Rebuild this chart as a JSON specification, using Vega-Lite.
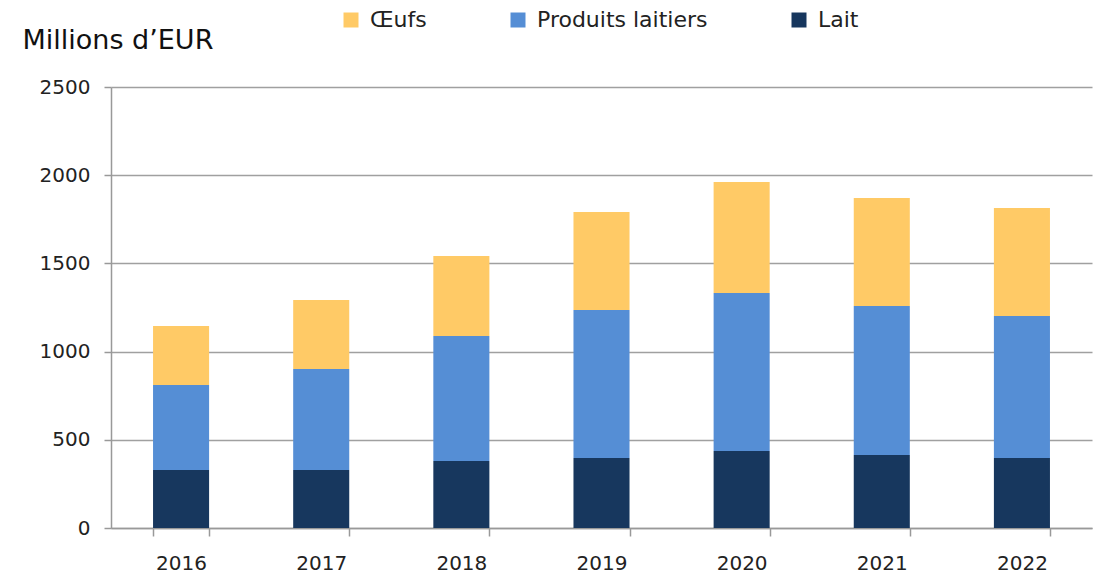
{
  "$schema": "https://vega.github.io/schema/vega-lite/v6.json",
  "width": 981,
  "height": 441,
  "autosize": {"type": "none"},
  "padding": {"left": 111, "top": 87, "right": 10, "bottom": 46},
  "background": "white",
  "config": {
    "font": "DejaVu Sans",
    "view": {"stroke": null}
  },
  "data": {
    "values": [
      {"annee": "2016", "categorie": "Lait", "ordre": 1, "valeur": 329},
      {"annee": "2016", "categorie": "Produits laitiers", "ordre": 2, "valeur": 482},
      {"annee": "2016", "categorie": "Œufs", "ordre": 3, "valeur": 334},
      {"annee": "2017", "categorie": "Lait", "ordre": 1, "valeur": 329},
      {"annee": "2017", "categorie": "Produits laitiers", "ordre": 2, "valeur": 572},
      {"annee": "2017", "categorie": "Œufs", "ordre": 3, "valeur": 392},
      {"annee": "2018", "categorie": "Lait", "ordre": 1, "valeur": 380},
      {"annee": "2018", "categorie": "Produits laitiers", "ordre": 2, "valeur": 708},
      {"annee": "2018", "categorie": "Œufs", "ordre": 3, "valeur": 454},
      {"annee": "2019", "categorie": "Lait", "ordre": 1, "valeur": 397},
      {"annee": "2019", "categorie": "Produits laitiers", "ordre": 2, "valeur": 839},
      {"annee": "2019", "categorie": "Œufs", "ordre": 3, "valeur": 555},
      {"annee": "2020", "categorie": "Lait", "ordre": 1, "valeur": 437},
      {"annee": "2020", "categorie": "Produits laitiers", "ordre": 2, "valeur": 895},
      {"annee": "2020", "categorie": "Œufs", "ordre": 3, "valeur": 630},
      {"annee": "2021", "categorie": "Lait", "ordre": 1, "valeur": 414},
      {"annee": "2021", "categorie": "Produits laitiers", "ordre": 2, "valeur": 845},
      {"annee": "2021", "categorie": "Œufs", "ordre": 3, "valeur": 612},
      {"annee": "2022", "categorie": "Lait", "ordre": 1, "valeur": 397},
      {"annee": "2022", "categorie": "Produits laitiers", "ordre": 2, "valeur": 805},
      {"annee": "2022", "categorie": "Œufs", "ordre": 3, "valeur": 612}
    ]
  },
  "mark": {"type": "bar"},
  "encoding": {
    "x": {
      "field": "annee",
      "type": "nominal",
      "scale": {"paddingInner": 0.6, "paddingOuter": 0.3},
      "axis": {
        "title": null,
        "labelAngle": 0,
        "labelFontSize": 20,
        "labelColor": "#222222",
        "labelPadding": 17,
        "tickBand": "extent",
        "tickSize": 8,
        "tickColor": "#999999",
        "tickWidth": 1.5,
        "domainColor": "#999999",
        "domainWidth": 1.5,
        "grid": false
      }
    },
    "y": {
      "field": "valeur",
      "type": "quantitative",
      "stack": "zero",
      "scale": {"domain": [0, 2500]},
      "axis": {
        "values": [0, 500, 1000, 1500, 2000, 2500],
        "format": "d",
        "title": "Millions d’EUR",
        "titleAngle": 0,
        "titleX": -89,
        "titleY": -39,
        "titleAlign": "left",
        "titleBaseline": "alphabetic",
        "titleFontSize": 27,
        "titleFontWeight": "normal",
        "titleColor": "#111111",
        "labelFontSize": 20,
        "labelColor": "#222222",
        "labelPadding": 14,
        "tickSize": 7,
        "tickColor": "#999999",
        "tickWidth": 1.5,
        "domainColor": "#999999",
        "domainWidth": 1.5,
        "gridColor": "#a0a0a0",
        "gridWidth": 1.5
      }
    },
    "color": {
      "field": "categorie",
      "type": "nominal",
      "scale": {
        "domain": ["Œufs", "Produits laitiers", "Lait"],
        "range": ["#FFCA66", "#558ED5", "#17375E"]
      },
      "legend": {
        "title": null,
        "orient": "none",
        "legendX": 229,
        "legendY": -78,
        "direction": "horizontal",
        "symbolType": "square",
        "symbolSize": 225,
        "symbolStrokeWidth": 0,
        "labelFontSize": 22,
        "labelLimit": 400,
        "labelColor": "#222222",
        "columnPadding": 80,
        "labelOffset": 8
      }
    },
    "order": {"field": "ordre", "type": "quantitative"}
  }
}
